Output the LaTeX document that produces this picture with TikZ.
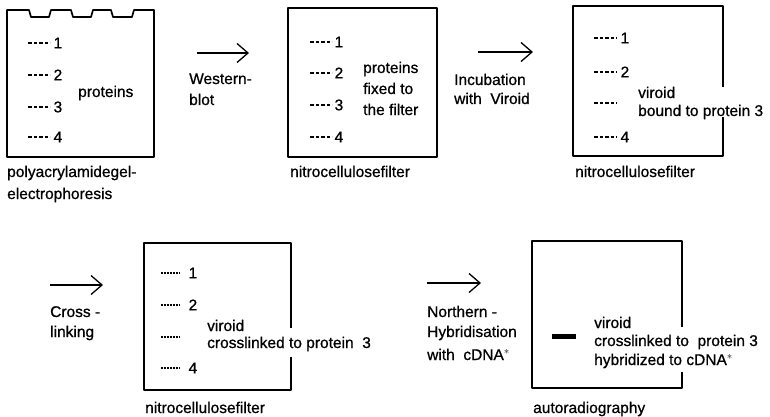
\documentclass[tikz,border=0pt]{standalone}
\usepackage{fontspec}
\setmainfont{Liberation Sans}
\newfontfamily\lettering[FakeBold=0.8]{Liberation Sans}
\usetikzlibrary{arrows.meta}

\begin{document}
\begin{tikzpicture}[x=1pt,y=-1pt,line join=round,
  >={Straight Barb[length=11pt,width=19pt]},
  filter/.style={line width=1.7pt},
  band/.style={line width=1.2pt,dash pattern=on 3.5pt off 2pt},
  fineband/.style={line width=1.2pt,dash pattern=on 1.5pt off 1.5pt},
  flow/.style={->,line width=1.3pt},
  txt/.style={anchor=base west,inner sep=0pt,font=\lettering\fontsize{15.5}{18}\selectfont},
  num/.style={anchor=west,inner sep=0pt,font=\lettering\fontsize{15.5}{18}\selectfont}]

  \useasboundingbox (0,0) rectangle (770,417);

  % gel with slots
  \draw[filter] (7,10) -- (29,10) -- (31,17) -- (49,17) -- (51,10) -- (71,10) -- (73,17)
    -- (91,17) -- (93,10) -- (111,10) -- (113,17) -- (132,17) -- (134,10) -- (154,10)
    -- (154,157) -- (7,157) -- cycle;
  \foreach \y/\n in {43/1,75/2,107/3,137/4}
    \draw[band] (28,\y) -- (50,\y) node[num,xshift=3pt] (gel\n) {\n};
  \node[txt] (gelprot) at (78,97) {proteins};
  \node[txt] (gelcap) at (7,177) {polyacrylamidegel-};
  \node[txt] (gelcapb) at (7,199) {electrophoresis};

  \coordinate (wbs) at (197,53);
  \coordinate (wbe) at (249,53);
  \draw[flow] (wbs) -- (wbe);
  \node[txt] (wb) at (189,84) {Western-};
  \node[txt] (wbb) at (189,105) {blot};

  % filter after blot
  \draw[filter] (288,8) rectangle (437,157);
  \foreach \y/\n in {42/1,73/2,105/3,137/4}
    \draw[band] (310,\y) -- (332,\y) node[num,xshift=2pt] (blot\n) {\n};
  \node[txt] (fix) at (363,73) {proteins};
  \node[txt] (fixb) at (363,94) {fixed to};
  \node[txt] (fixc) at (363,115) {the filter};
  \node[txt] (blotcap) at (290,177) {nitrocellulosefilter};

  \coordinate (ivs) at (478,52);
  \coordinate (ive) at (533,52);
  \draw[flow] (ivs) -- (ive);
  \node[txt] (iv) at (454,85) {Incubation};
  \node[txt] (ivb) at (454,104) {with~~Viroid};

  % filter with bound viroid
  \draw[filter] (723,87) -- (723,6) -- (573,6) -- (573,156) -- (723,156) -- (723,117);
  \foreach \y/\n in {38/1,72/2,137/4}
    \draw[band] (594,\y) -- (617,\y) node[num,xshift=3pt] (bind\n) {\n};
  \draw[band] (594,103) -- (617,103);
  \node[txt] (bound) at (638,98) {viroid};
  \node[txt] (boundb) at (638,116) {bound to protein 3};
  \node[txt] (bindcap) at (575,177) {nitrocellulosefilter};

  \coordinate (cls) at (50,285);
  \coordinate (cle) at (103,285);
  \draw[flow] (cls) -- (cle);
  \node[txt] (cl) at (50,317) {Cross -};
  \node[txt] (clb) at (50,337) {linking};

  % crosslinked filter
  \draw[filter] (291,328) -- (291,243) -- (144,243) -- (144,390) -- (291,390) -- (291,357);
  \foreach \y/\n in {273/1,305/2,368/4}
    \draw[fineband] (161,\y) -- (180,\y) node[num,xshift=8pt] (link\n) {\n};
  \draw[fineband] (161,337) -- (180,337);
  \node[txt] (linked) at (207,331) {viroid};
  \node[txt] (linkedb) at (207,348) {crosslinked to protein~~3};
  \node[txt] (linkcap) at (145,413) {nitrocellulosefilter};

  \coordinate (nhs) at (427,283);
  \coordinate (nhe) at (481,283);
  \draw[flow] (nhs) -- (nhe);
  \node[txt] (nh) at (427,317) {Northern -};
  \node[txt] (nhb) at (427,337) {Hybridisation};
  \node[txt] (nhc) at (427,360) {with~~cDNA$^{\ast}$};

  % autoradiography
  \draw[filter] (682,327) -- (682,241) -- (532,241) -- (532,388) -- (682,388) -- (682,372);
  \draw[line width=5pt] (552,336) -- (576,336);
  \node[txt] (hyb) at (594,328) {viroid};
  \node[txt] (hybb) at (594,346) {crosslinked to~~protein 3};
  \node[txt] (hybc) at (594,365) {hybridized to cDNA$^{\ast}$};
  \node[txt] (autocap) at (533,413) {autoradiography};
\end{tikzpicture}
\end{document}
